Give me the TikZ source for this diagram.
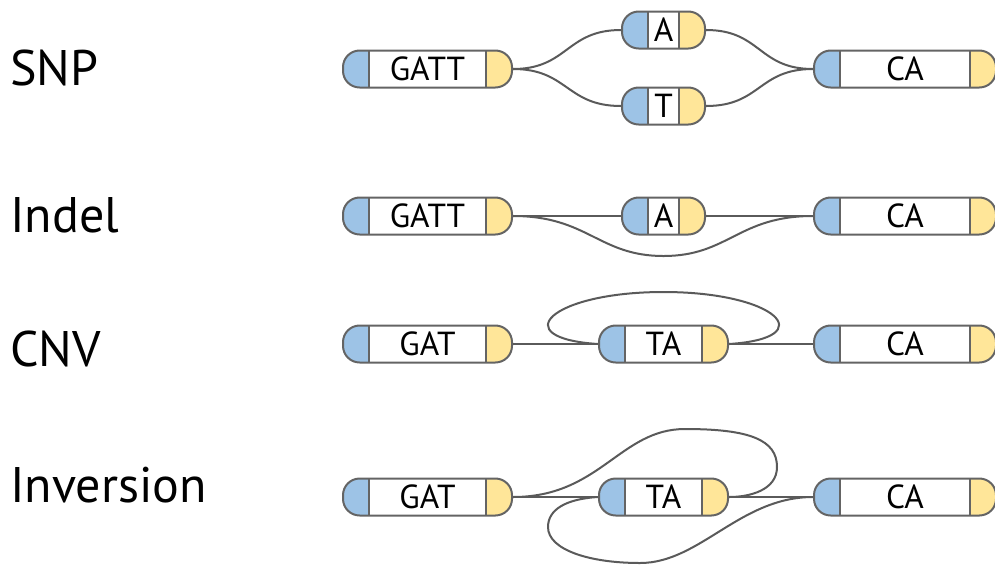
\documentclass[tikz,border=0pt]{standalone}
\usepackage{fontspec}
\setmainfont{PT Sans}

\definecolor{capblue}{RGB}{157,195,230}
\definecolor{capyellow}{RGB}{255,230,153}
\definecolor{segline}{RGB}{100,100,100}
\definecolor{linkgray}{RGB}{90,90,90}

\begin{document}
\begin{tikzpicture}[x=0.75pt,y=-0.75pt,
  seg/.style={draw=segline,line width=1.5pt,fill=white,minimum height=27.75pt,
    inner sep=0pt,rounded corners=12.5pt,font=\fontsize{25}{30}\selectfont,
    path picture={
      \fill[capblue,sharp corners] (path picture bounding box.south west) rectangle ([xshift=19.5pt]path picture bounding box.north west);
      \fill[capyellow,sharp corners] ([xshift=-19.5pt]path picture bounding box.south east) rectangle (path picture bounding box.north east);
      \draw[segline,line width=1.5pt,sharp corners] ([xshift=19.5pt]path picture bounding box.south west) -- ([xshift=19.5pt]path picture bounding box.north west);
      \draw[segline,line width=1.5pt,sharp corners] ([xshift=-19.5pt]path picture bounding box.south east) -- ([xshift=-19.5pt]path picture bounding box.north east);
    }},
  link/.style={draw=linkgray,line width=1.5pt},
  rowlabel/.style={font=\fontsize{37.5}{42}\selectfont,anchor=base west,inner sep=0pt}]
\useasboundingbox (0,0) rectangle (995,565);

% SNP
\node[rowlabel] (lsnp) at (10,85) {SNP};
\node[seg,minimum width=126.75pt] (snpL) at (427.5,69) {GATT};
\node[seg,minimum width=62.25pt] (snpA) at (663.5,30) {A};
\node[seg,minimum width=62.25pt] (snpT) at (663.5,106) {T};
\node[seg,minimum width=136.5pt] (snpR) at (905,69) {CA};
\draw[link] (snpL.east) .. controls +(55,0) and +(-55,0) .. (snpA.west);
\draw[link] (snpL.east) .. controls +(55,0) and +(-55,0) .. (snpT.west);
\draw[link] (snpA.east) .. controls +(55,0) and +(-55,0) .. (snpR.west);
\draw[link] (snpT.east) .. controls +(55,0) and +(-55,0) .. (snpR.west);

% Indel
\node[rowlabel] (lind) at (10,232) {Indel};
\node[seg,minimum width=126.75pt] (indL) at (427.5,216) {GATT};
\node[seg,minimum width=62.25pt] (indA) at (663.5,216) {A};
\node[seg,minimum width=136.5pt] (indR) at (905,216) {CA};
\draw[link] (indL.east) -- (indA.west);
\draw[link] (indA.east) -- (indR.west);
\draw[link] (indL.east) .. controls +(75,0) and +(-65,0) .. (663.5,256) .. controls +(65,0) and +(-75,0) .. (indR.west);

% CNV
\node[rowlabel] (lcnv) at (10,366) {CNV};
\node[seg,minimum width=126.75pt] (cnvL) at (427.5,344) {GAT};
\node[seg,minimum width=96.75pt] (cnvT) at (663.5,344) {TA};
\node[seg,minimum width=136.5pt] (cnvR) at (905,344) {CA};
\draw[link] (cnvL.east) -- (cnvT.west);
\draw[link] (cnvT.east) -- (cnvR.west);
\draw[link] (cnvT.west) .. controls (505,338) and (550,292) .. (663.5,292) .. controls (777,292) and (822,338) .. (cnvT.east);

% Inversion
\node[rowlabel] (linv) at (10,502) {Inversion};
\node[seg,minimum width=126.75pt] (invL) at (427.5,497) {GAT};
\node[seg,minimum width=96.75pt] (invT) at (663.5,497) {TA};
\node[seg,minimum width=136.5pt] (invR) at (905,497) {CA};
\draw[link] (invL.east) -- (invT.west);
\draw[link] (invT.east) -- (invR.west);
\draw[link] (invL.east) .. controls (600,497) and (620,429) .. (685,429) .. controls (750,429) and (777,440) .. (777,467) .. controls (777,490) and (750,497) .. (invT.east);
\draw[link] (invT.west) .. controls (565,499) and (548,510) .. (548,527) .. controls (548,550) and (590,563) .. (640,563) .. controls (700,563) and (740,497) .. (invR.west);

\end{tikzpicture}
\end{document}
